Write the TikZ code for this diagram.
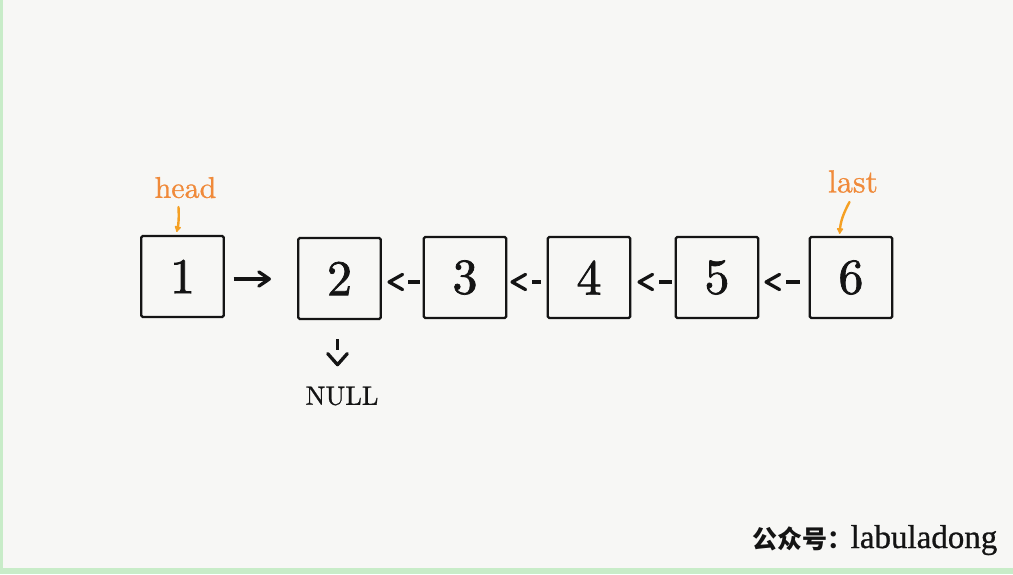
\documentclass[tikz,border=0pt]{standalone}
\usepackage{fontspec}
\newfontfamily\cjk{Noto Sans CJK SC}
\newfontfamily\serifr{Liberation Serif}[FakeBold=0.8]
\newfontfamily\heavy{lmroman10-regular}[Extension=.otf,FakeBold=1.5]
\newfontfamily\semi{lmroman10-regular}[Extension=.otf,FakeBold=0.8]
\usetikzlibrary{arrows.meta}
\definecolor{bg}{RGB}{247,247,245}
\definecolor{grn}{RGB}{200,236,200}
\definecolor{org}{RGB}{240,138,58}
\definecolor{orgar}{RGB}{245,160,35}
\definecolor{ink}{RGB}{20,20,20}
% #1 anchor, #2 y offset, #3 chevron tip offset, #4 dash start, #5 dash end
\newcommand\mkbackarrow[5]{%
  \draw[chevs] ([shift={(#3+14.5,#2-7.6)}]#1) -- ([shift={(#3+1,#2)}]#1) -- ([shift={(#3+14.5,#2+7.6)}]#1);
  \draw[dashs] ([shift={(#4,#2)}]#1) -- ([shift={(#5,#2)}]#1);}
\begin{document}
\begin{tikzpicture}[x=1pt,y=-1pt,
  box/.style={draw=ink, line width=2.2pt, rounded corners=1.5pt, minimum width=82.5pt, minimum height=81pt, inner sep=0pt, text=ink, font=\heavy\fontsize{50}{50}\selectfont},
  chevs/.style={draw=ink, line width=3.3pt, line cap=round, line join=round},
  dashs/.style={draw=ink, line width=3.3pt, line cap=butt},
  lbl/.style={text=org, inner sep=0pt},
  oarrow/.style={draw=orgar, line width=2.4pt, line cap=round, -{Latex[length=7pt,width=8pt,round]}}
]
\fill[bg] (0,0) rectangle (1013,574);
\fill[grn] (0,0) rectangle (2.5,574);
\fill[grn] (0,568) rectangle (1013,574);
\useasboundingbox (0,0) rectangle (1013,574);

\node[box] (b1) at (182.5,276.5) {1};
\node[box] (b2) at (339.5,278.5) {2};
\node[box] (b3) at (465,277.5) {3};
\node[box] (b4) at (589,277.5) {4};
\node[box] (b5) at (717,277.5) {5};
\node[box] (b6) at (851,277.5) {6};

\node[inner sep=0pt, text=ink, font=\semi\fontsize{26.5}{26.5}\selectfont] (null) at (342,396) {NULL};

\node[lbl, font=\semi\fontsize{30}{30}\selectfont] (head) at (185.5,187.6) {head};
\node[lbl, font=\semi\fontsize{32}{32}\selectfont] (last) at (853,181.5) {last};

% forward arrow 1 -> 2
\draw[dashs] ([shift={(8.75,2.5)}]b1.east) -- ([shift={(43.5,2.5)}]b1.east);
\draw[chevs] ([shift={(34,-4.6)}]b1.east) -- ([shift={(44.5,2.5)}]b1.east) -- ([shift={(34,9.6)}]b1.east);

% backward arrows "<-"
\mkbackarrow{b2.east}{3.5}{6.25}{26.25}{38.25}
\mkbackarrow{b3.east}{4.5}{3.75}{24.75}{33.25}
\mkbackarrow{b4.east}{4.5}{6.75}{27.75}{40.75}
\mkbackarrow{b5.east}{4.5}{5.75}{26.75}{40.75}

% down arrow to NULL
\draw[dashs] ([shift={(-2,19)}]b2.south) -- ([shift={(-2,29.5)}]b2.south);
\draw[chevs] ([shift={(-11.8,33.5)}]b2.south) -- ([shift={(-2,44.6)}]b2.south) -- ([shift={(7.8,33.5)}]b2.south);

% pointers
\coordinate (ha) at (178.5,207);
\draw[oarrow, shorten >=3pt] (ha) to[bend left=8] ([xshift=-2.5pt]ha |- b1.north);
\coordinate (la) at (849.5,202);
\draw[oarrow, shorten >=2pt] (la) to[bend right=12] ([xshift=-10pt]la |- b6.north);

% watermark
\node[anchor=base west, inner sep=0pt, text=ink] (wm) at (752.5,548)
  {{\cjk\bfseries\fontsize{25}{25}\selectfont 公众号：}\kern-2pt{\serifr\fontsize{33}{33}\selectfont labuladong}};
\end{tikzpicture}
\end{document}
